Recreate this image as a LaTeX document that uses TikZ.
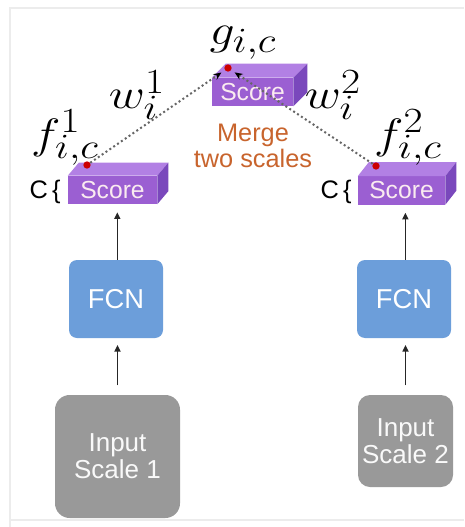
\documentclass[tikz,border=0pt]{standalone}
\usepackage{fontspec}
\setsansfont{Liberation Sans}
\usetikzlibrary{arrows.meta}
\definecolor{purfront}{RGB}{155,95,210}
\definecolor{purtop}{RGB}{178,128,228}
\definecolor{purside}{RGB}{122,72,188}
\definecolor{fcnblue}{RGB}{108,158,218}
\definecolor{ingray}{RGB}{153,153,153}
\definecolor{mergeor}{RGB}{200,100,45}
\definecolor{framegray}{RGB}{236,236,236}
\tikzset{
  px/.style={x=0.75pt,y=-0.75pt},
  scoreface/.style={fill=purfront,draw=none,inner sep=0pt,
     text=white!92!purple,font=\sffamily\fontsize{18.5}{20}\selectfont},
  fcnbox/.style={fill=fcnblue,draw=none,rounded corners=6pt,inner sep=0pt,
     text=white,font=\sffamily\fontsize{20.5}{22}\selectfont,
     minimum width=70.5pt,minimum height=58.5pt},
  inbox/.style={fill=ingray,draw=none,inner sep=0pt,align=center,
     text=white!95!gray,font=\sffamily\fontsize{19.5}{21}\selectfont},
  flow/.style={-{Triangle[length=5pt,width=4.5pt]},line width=1.2pt,
     draw=black!85,shorten >=6pt},
  merge/.style={dotted,line width=1.5pt,draw=black!60,
     -{Stealth[length=6pt,width=5pt,black]},shorten >=3pt},
  reddot/.style={circle,fill=red!80!black,inner sep=0pt,minimum size=5.5pt},
  mathlbl/.style={inner sep=0pt,font=\fontsize{24.88}{27}\selectfont},
  clbl/.style={inner sep=0pt,font=\sffamily\fontsize{19}{21}\selectfont},
}
\newcommand{\boxfaces}[3]{% node name, dx, dy (px, y down)
  \fill[purtop] (#1.north west) -- ++(#2,#3) -- ([shift={(#2,#3)}]#1.north east) -- (#1.north east) -- cycle;
  \fill[purside] (#1.north east) -- ++(#2,#3) -- ([shift={(#2,#3)}]#1.south east) -- (#1.south east) -- cycle;
}
\newcommand{\wide}[1]{\scalebox{1.5}[1.28]{#1}}
\begin{document}
\begin{tikzpicture}[px]
\useasboundingbox (0,0) rectangle (464,527);
% frame
\draw[framegray,line width=2.2pt] (10,527) -- (10,8) -- (464,8);
\draw[framegray,line width=1.5pt] (10,520) -- (464,520);

% score boxes (front faces)
\node[scoreface,minimum width=60.75pt,minimum height=21pt] (stop) at (252.5,92) {Score};
\boxfaces{stop}{14}{-14}
\node[scoreface,minimum width=66.75pt,minimum height=21pt] (s1) at (112.5,190) {Score};
\boxfaces{s1}{11}{-13}
\node[scoreface,minimum width=65.25pt,minimum height=21pt] (s2) at (401.5,190.5) {Score};
\boxfaces{s2}{11}{-14}

% FCN boxes
\node[fcnbox] (fcn1) at (116,299) {FCN};
\node[fcnbox] (fcn2) at (404,299) {FCN};

% input boxes
\node[inbox,rounded corners=11pt,minimum width=93.75pt,minimum height=92.25pt] (in1) at (117.5,456.5) {Input\\[-1pt]Scale 1};
\node[inbox,rounded corners=9pt,minimum width=71.25pt,minimum height=69pt] (in2) at (405.5,441) {Input\\[-1pt]Scale 2};

% flow arrows
\draw[flow] ([xshift=1pt]fcn1.north) -- ([xshift=1pt]fcn1.north |- s1.south);
\draw[flow] ([xshift=1pt]fcn2.north) -- ([xshift=1pt]fcn2.north |- s2.south);
\draw[flow,shorten <=7pt,shorten >=5pt] (in1.north) -- (in1.north |- fcn1.south);
\draw[flow,shorten <=7pt,shorten >=5pt] (in2.north) -- (in2.north |- fcn2.south);

% red dots and merge lines
\node[reddot] (dtop) at (228,68) {};
\node[reddot] (d1) at (87,165) {};
\node[reddot] (d2) at (376,166) {};
\draw[merge] (d1) -- (dtop);
\draw[merge] (d2) -- (dtop);

% labels
\node[mathlbl] (g) at (243,43) {\wide{$g_{i,c}$}};
\node[mathlbl] (w1) at (137,95) {\wide{$w_i^1$}};
\node[mathlbl] (w2) at (333,95) {\wide{$w_i^2$}};
\node[mathlbl] (f1) at (65,138) {\wide{$f_{i,c}^1$}};
\node[mathlbl] (f2) at (408,138) {\wide{$f_{i,c}^2$}};
\node[align=center,text=mergeor,font=\sffamily\fontsize{19}{19.5}\selectfont,inner sep=0pt] (mg) at (253,146) {Merge\\two scales};
\node[clbl] (c1) at (45,192) {C\,\{};
\node[clbl] (c2) at (336,192) {C\,\{};
\end{tikzpicture}
\end{document}
